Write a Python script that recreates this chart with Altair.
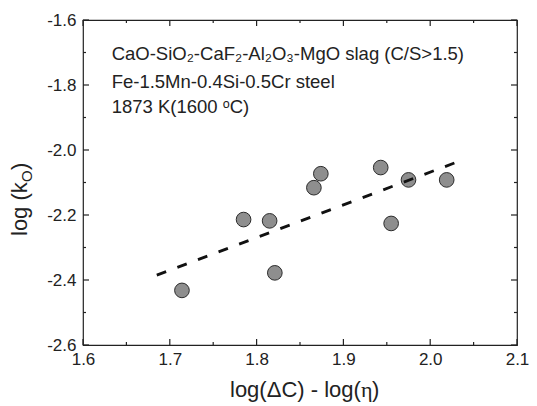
import altair as alt
import pandas as pd

# measured data
x_vals = [1.714, 1.785, 1.815, 1.821, 1.866, 1.874, 1.943, 1.955, 1.975, 2.019]
y_vals = [-2.432, -2.214, -2.218, -2.378, -2.116, -2.073, -2.054, -2.226, -2.092, -2.092]

# dashed trend line end points
fit_x = [1.685, 2.030]
fit_y = [-2.385, -2.038]

# tick values
x_major = [1.6, 1.7, 1.8, 1.9, 2.0, 2.1]
x_minor = [1.65, 1.75, 1.85, 1.95, 2.05]
y_major = [-2.6, -2.4, -2.2, -2.0, -1.8, -1.6]
y_minor = [-2.5, -2.3, -2.1, -1.9, -1.7]

# annotation
notes = ["CaO-SiO\u2082-CaF\u2082-Al\u2082O\u2083-MgO slag (C/S>1.5)",
         "Fe-1.5Mn-0.4Si-0.5Cr steel",
         "1873 K(1600 \u1d52C)"]
note_x = [1.633, 1.633, 1.633]
note_y = [-1.722, -1.81, -1.887]

W, H = 434, 325
FONT = "Liberation Sans"
INK = "#222222"
LBL = "(datum.value < 0 ? '-' : '') + format(abs(datum.value), '.1f')"

xs = alt.Scale(domain=[1.6, 2.1], nice=False, zero=False)
ys = alt.Scale(domain=[-2.6, -1.6], nice=False, zero=False)
xaxis = alt.Axis(values=x_major, labelExpr=LBL, ticks=False, domain=False,
                 grid=False, title=None, labelFont=FONT, labelFontSize=17,
                 labelColor=INK, labelPadding=6, labelFlush=False)
yaxis = alt.Axis(values=y_major, labelExpr=LBL, ticks=False, domain=False,
                 grid=False, title=None, labelFont=FONT, labelFontSize=17,
                 labelColor=INK, labelPadding=7, labelFlush=False)


def X(f):
    return alt.X(f, scale=xs, axis=xaxis, title=None)


def Y(f):
    return alt.Y(f, scale=ys, axis=yaxis, title=None)


pts = pd.DataFrame({"x": x_vals, "y": y_vals})
points = alt.Chart(pts).mark_point(
    shape="circle", filled=True, size=215, fill="#8e8e8e",
    stroke="#2b2b2b", strokeWidth=1, opacity=1
).encode(x=X("x:Q"), y=Y("y:Q"))

fit = alt.Chart(pd.DataFrame({"x": fit_x, "y": fit_y})).mark_line(
    color="#111111", strokeWidth=2.8, strokeDash=[10, 12]
).encode(x=X("x:Q"), y=Y("y:Q"))


def xticks(vals, length, top):
    return alt.Chart(pd.DataFrame({"x": vals})).mark_rule(
        color=INK, strokeWidth=1.2
    ).encode(
        x=X("x:Q"),
        y=alt.value(0 if top else H),
        y2=alt.value(length if top else H - length),
    )


def yticks(vals, length, right):
    return alt.Chart(pd.DataFrame({"y": vals})).mark_rule(
        color=INK, strokeWidth=1.2
    ).encode(
        y=Y("y:Q"),
        x=alt.value(W if right else 0),
        x2=alt.value(W - length if right else length),
    )


tick_layers = [
    xticks(x_major, 6, False), xticks(x_major, 6, True),
    xticks(x_minor, 3, False), xticks(x_minor, 3, True),
    yticks(y_major, 6, False), yticks(y_major, 6, True),
    yticks(y_minor, 3, False), yticks(y_minor, 3, True),
]

ann = alt.Chart(pd.DataFrame({"x": note_x, "y": note_y, "t": notes})).mark_text(
    align="left", baseline="alphabetic", font=FONT, fontSize=18.5, color=INK
).encode(x=X("x:Q"), y=Y("y:Q"), text="t:N")


def label(txt, px, py, size=22, font=FONT, angle=0):
    kw = dict(align="left", baseline="alphabetic", font=font,
              fontSize=size, color=INK)
    if angle:
        kw["angle"] = angle
    return alt.Chart(pd.DataFrame({"t": [txt]})).mark_text(**kw).encode(
        x=alt.value(px), y=alt.value(py), text="t:N")


titles = [
    label("log(\u0394C) - log(", 147, 377),
    label("\u03b7", 278, 377, font="Liberation Serif"),
    label(")", 289, 377),
    label("log (k", -56, 216, angle=270),
    label("O", -51, 162, size=15, angle=270),
    label(")", -56, 150, angle=270),
]

chart = alt.layer(points, fit, ann, *tick_layers, *titles).properties(
    width=W, height=H,
    autosize=alt.AutoSizeParams(type="none"),
    padding={"left": 75, "top": 12, "right": 12, "bottom": 58},
    background="white",
).configure_view(stroke=INK, strokeWidth=1.2)

chart.save("out.html", embed_options={"renderer": "svg", "actions": False})
